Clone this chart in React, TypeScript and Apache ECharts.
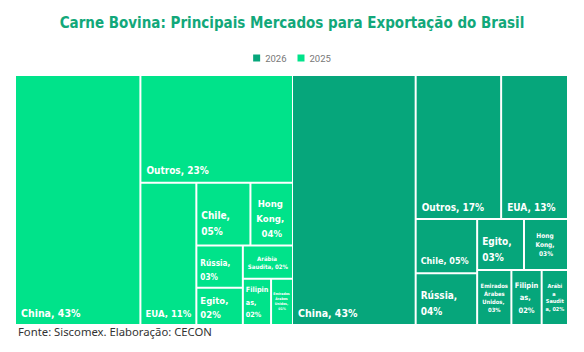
import React, { useEffect, useRef } from "react";
import * as echarts from "echarts";

const title = "Carne Bovina: Principais Mercados para Exportação do Brasil";
const source = "Fonte: Siscomex. Elaboração: CECON";
const years = ["2026", "2025"];

// Shares (%) read from the tile areas; labels show rounded values
const names2025 = ["China", "Outros", "EUA", "Chile", "Hong Kong", "Rússia", "Egito", "Arábia Saudita", "Filipinas", "Emirados Árabes Unidos"];
const values2025 = [43.3, 22.7, 11.0, 4.7, 3.7, 2.7, 2.4, 2.3, 1.8, 1.4];

const names2026 = ["China", "Outros", "EUA", "Chile", "Rússia", "Egito", "Hong Kong", "Emirados Árabes Unidos", "Filipinas", "Arábia Saudita"];
const values2026 = [42.7, 17.0, 13.3, 4.6, 4.4, 3.3, 3.1, 2.6, 2.3, 2.0];

const color2025 = "#00E38A";
const color2026 = "#06A67B";

type F = { size: number; pos: "bl" | "b" | "c"; lh?: number; pad?: number | number[] };
const font25: Record<string, F> = {
  China: { size: 10.5, pos: "bl", pad: [5, 5, 4, 5] },
  Outros: { size: 10, pos: "bl", pad: [5, 5, 4, 5] },
  EUA: { size: 9.5, pos: "bl", pad: [5, 2, 4, 4] },
  Chile: { size: 10, pos: "bl", lh: 16, pad: [5, 4] },
  "Hong Kong": { size: 9.5, pos: "b", lh: 15, pad: [4, 3] },
  "Rússia": { size: 8.2, pos: "bl", lh: 14, pad: [3, 1, 3, 3] },
  Egito: { size: 9.5, pos: "bl", lh: 14, pad: [3, 3] },
  "Arábia Saudita": { size: 6, pos: "c", lh: 8, pad: 2 },
  Filipinas: { size: 7.2, pos: "bl", lh: 12.5, pad: [3, 1, 3, 2] },
  "Emirados Árabes Unidos": { size: 3.5, pos: "c", lh: 5, pad: 1 },
};
const font26: Record<string, F> = {
  China: { size: 10.5, pos: "bl", pad: [5, 5, 4, 5] },
  Outros: { size: 10, pos: "bl", pad: [5, 5, 4, 5] },
  EUA: { size: 10, pos: "bl", pad: [5, 5, 4, 5] },
  Chile: { size: 9, pos: "bl", pad: [5, 2, 5, 4] },
  "Rússia": { size: 10, pos: "bl", lh: 16, pad: [5, 4] },
  Egito: { size: 10, pos: "bl", lh: 16, pad: [4, 4] },
  "Hong Kong": { size: 6.5, pos: "c", lh: 9, pad: 5 },
  "Emirados Árabes Unidos": { size: 5.8, pos: "c", lh: 8, pad: 2 },
  Filipinas: { size: 7.5, pos: "c", lh: 12.5, pad: 1 },
  "Arábia Saudita": { size: 5.5, pos: "c", lh: 7.5, pad: 2 },
};

const labelFont = "'DejaVu Sans Condensed', Roboto, sans-serif";

const posMap: Record<string, string> = { bl: "insideBottomLeft", b: "insideBottom", c: "inside" };

function buildData(names: string[], values: number[], fonts: Record<string, F>, color: string) {
  return names.map((n, i) => {
    const f = fonts[n] || { size: 10, pos: "bl" };
    return {
      name: n,
      value: values[i],
      itemStyle: { color },
      label: {
        fontSize: f.size,
        lineHeight: f.lh || Math.round(f.size * 1.4),
        position: posMap[f.pos],
        align: f.pos === "bl" ? "left" : "center",
        distance: 0,
        padding: f.pad != null ? f.pad : 5,
      },
    };
  });
}

export default function App() {
  const ref = useRef<HTMLDivElement>(null);
  useEffect(() => {
    if (!ref.current) return;
    const chart = echarts.init(ref.current, null, { renderer: "svg" });
    const s25 = values2025.reduce((a, b) => a + b, 0);
    const s26 = values2026.reduce((a, b) => a + b, 0);
    const left = 16, top = 76, totalW = 551, h = 248, gap = 1;
    const w25 = ((totalW - gap) * s25) / (s25 + s26);
    const w26 = totalW - gap - w25;
    const common = {
      type: "treemap",
      top,
      height: h,
      roam: false,
      nodeClick: false,
      sort: false,
      breadcrumb: { show: false },
      label: {
        show: true,
        color: "#fff",
        fontWeight: "bold",
        fontFamily: labelFont,
        overflow: "break",
        formatter: (p: any) => `${p.name}, ${String(Math.round(p.value)).padStart(2, "0")}%`,
      },
      levels: [
        { itemStyle: { gapWidth: 2, borderWidth: 0 } },
        { itemStyle: { borderWidth: 0, gapWidth: 0 } },
      ],
      emphasis: { disabled: true },
    };
    chart.setOption({
      animation: false,
      title: {
        text: title,
        left: "center",
        top: 10,
        textStyle: { color: "#12A87A", fontSize: 15, fontWeight: "bold", fontFamily: labelFont },
      },
      legend: {
        top: 48,
        left: "center",
        itemWidth: 7,
        itemHeight: 7,
        itemGap: 11,
        icon: "rect",
        textStyle: { color: "#777", fontSize: 9.5, fontFamily: "Roboto, sans-serif" },
        data: [
          { name: years[0], itemStyle: { color: color2026 } },
          { name: years[1], itemStyle: { color: color2025 } },
        ],
      },
      graphic: [
        {
          type: "text",
          left: 18,
          top: 326,
          style: { text: source, fill: "#333", fontSize: 11.3, fontFamily: "'Noto Sans', sans-serif" },
        },
      ],
      series: [
        {
          ...common,
          name: years[0],
          left: left + w25 + gap,
          width: w26,
          squareRatio: 1.082,
          data: buildData(names2026, values2026, font26, color2026),
        },
        {
          ...common,
          name: years[1],
          left,
          width: w25,
          squareRatio: 0.79,
          data: buildData(names2025, values2025, font25, color2025),
        },
      ],
    });
    return () => chart.dispose();
  }, []);
  return <div ref={ref} style={{ width: 584, height: 352, margin: -8 }} />;
}
